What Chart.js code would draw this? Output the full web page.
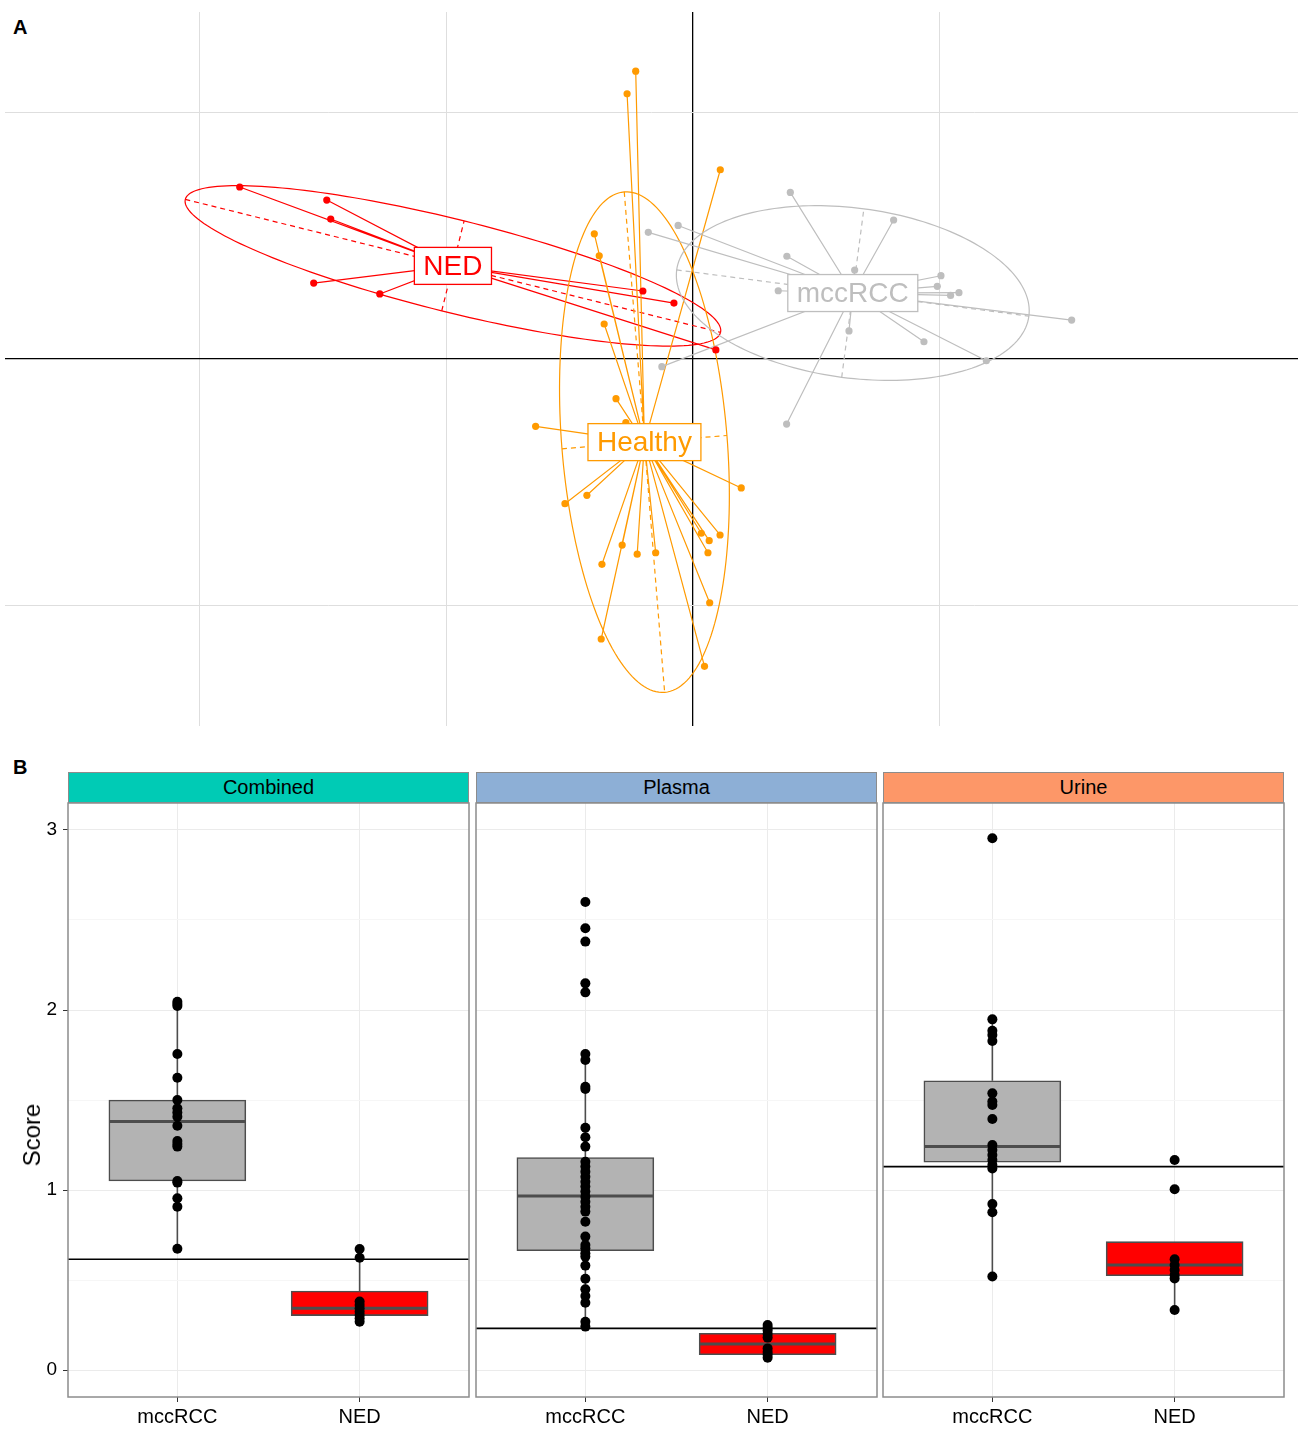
<!DOCTYPE html>
<html>
<head>
<meta charset="utf-8">
<script src="https://cdn.jsdelivr.net/npm/chart.js@4.4.0/dist/chart.umd.min.js"></script>
<style>
  body { margin: 0; background: #fff; font-family: "Liberation Sans", Arial, sans-serif; }
  #page { position: relative; width: 1298px; height: 1432px; overflow: hidden; }
  canvas { position: absolute; }
  .tag { position: absolute; left: 13px; font-weight: bold; font-size: 20px; }
  .strip { position: absolute; top: 772px; width: 401px; height: 31px; box-sizing: border-box;
           border: 1.5px solid #8c8c8c; text-align: center; line-height: 29px; font-size: 20px; color: #000; }
  #ytitle { position: absolute; left: 32px; top: 1135px; font-size: 24px; color: #000;
            transform: translate(-50%, -50%) rotate(-90deg); white-space: nowrap; }
</style>
</head>
<body>
<div id="page">
  <div class="tag" style="top:16px">A</div>
  <canvas id="pca" width="1298" height="740" style="left:0;top:0"></canvas>

  <div class="tag" style="top:756px">B</div>
  <div class="strip" style="left:68px;background:#00cbb5">Combined</div>
  <div class="strip" style="left:476px;background:#8dafd6">Plasma</div>
  <div class="strip" style="left:883px;background:#fd9768">Urine</div>
  <canvas id="facet0" width="471" height="631" style="left:0;top:801px"></canvas>
  <canvas id="facet1" width="405" height="631" style="left:474px;top:801px"></canvas>
  <canvas id="facet2" width="405" height="631" style="left:881px;top:801px"></canvas>
  <div id="ytitle">Score</div>
</div>

<script>
// ---- panel A: sample scores on the first two axes ----
const nedPts = [[-1.838,0.698],[-1.485,0.645],[-1.469,0.568],[-1.538,0.308],[-1.270,0.264],
  [-0.203,0.276],[-0.077,0.227],[0.093,0.037]];
const healthyPts = [[-0.232,1.168],[-0.267,1.076],[0.111,0.768],[-0.400,0.508],[-0.380,0.419],
  [-0.360,0.142],[-0.312,-0.161],[-0.272,-0.258],[-0.638,-0.273],[0.196,-0.523],[-0.519,-0.587],
  [-0.430,-0.553],[0.034,-0.707],[0.066,-0.737],[0.110,-0.714],[0.061,-0.786],[-0.369,-0.833],
  [-0.287,-0.755],[-0.226,-0.792],[-0.151,-0.786],[0.068,-0.989],[-0.372,-1.136],[0.047,-1.247]];
const mccPts = [[0.395,0.676],[0.814,0.564],[-0.060,0.542],[-0.181,0.514],[0.381,0.417],
  [0.656,0.361],[1.006,0.338],[0.991,0.295],[1.079,0.269],[1.045,0.258],[0.346,0.277],
  [1.536,0.158],[0.633,0.114],[0.937,0.070],[1.190,-0.007],[-0.126,-0.031],[0.380,-0.264]];
const classNames = ['NED', 'Healthy', 'mccRCC'];
const pcaGridX = [-2, -1, 0, 1];
const pcaGridY = [-1, 0, 1];

// ---- panel B: scores per sample type ----
const facetNames = ['Combined', 'Plasma', 'Urine'];
const boxGroups = ['mccRCC', 'NED'];
const combinedMcc = [2.046,2.033,2.022,1.756,1.624,1.500,1.454,1.430,1.407,1.357,1.272,1.256,
  1.241,1.050,1.041,0.954,0.907,0.674];
const combinedNed = [0.672,0.624,0.380,0.361,0.343,0.324,0.306,0.287,0.268];
const plasmaMcc = [2.600,2.454,2.380,2.148,2.098,1.756,1.722,1.574,1.561,1.346,1.293,1.241,
  1.157,1.130,1.102,1.074,1.046,1.019,0.991,0.963,0.935,0.907,0.880,0.824,0.741,0.694,0.676,
  0.648,0.630,0.580,0.507,0.448,0.411,0.374,0.268,0.241];
const plasmaNed = [0.250,0.235,0.220,0.200,0.180,0.120,0.100,0.085,0.068];
const urineMcc = [2.954,1.948,1.885,1.861,1.828,1.537,1.491,1.472,1.394,1.250,1.222,1.194,
  1.167,1.139,1.120,0.922,0.876,0.519];
const urineNed = [1.167,1.004,0.615,0.583,0.556,0.528,0.509,0.333];
// [lower whisker, q1, median, q3, upper whisker]
const combinedBox = [[0.674,1.050,1.380,1.500,2.046],[0.268,0.302,0.343,0.439,0.624]];
const plasmaBox = [[0.241,0.663,0.967,1.180,1.756],[0.068,0.085,0.144,0.204,0.250]];
const urineBox = [[0.519,1.154,1.241,1.607,1.948],[0.333,0.524,0.583,0.713,0.713]];
const cutoffs = [0.615, 0.231, 1.130];
const scoreTicks = [0, 0.5, 1, 1.5, 2, 2.5, 3];

Chart.defaults.font.family = '"Liberation Sans", Arial, sans-serif';
Chart.defaults.color = '#000';

// centroid + 1.5 sd ellipse of each class (population covariance)
function classStats(pts) {
  const n = pts.length;
  let mx = 0, my = 0;
  pts.forEach(p => { mx += p[0]; my += p[1]; });
  mx /= n; my /= n;
  let sxx = 0, syy = 0, sxy = 0;
  pts.forEach(p => {
    const dx = p[0] - mx, dy = p[1] - my;
    sxx += dx * dx; syy += dy * dy; sxy += dx * dy;
  });
  sxx /= n; syy /= n; sxy /= n;
  const tr = (sxx + syy) / 2;
  const d = Math.sqrt(((sxx - syy) / 2) ** 2 + sxy * sxy);
  return {
    mx: mx, my: my,
    a: 1.5 * Math.sqrt(tr + d),
    b: 1.5 * Math.sqrt(Math.max(tr - d, 0)),
    th: 0.5 * Math.atan2(2 * sxy, sxx - syy)
  };
}

const classes = [
  { name: classNames[0], color: '#ff0000', pts: nedPts },
  { name: classNames[1], color: '#ff9a00', pts: healthyPts },
  { name: classNames[2], color: '#bebebe', pts: mccPts }
];
classes.forEach(c => { c.stats = classStats(c.pts); });

const classPlugin = {
  id: 'classes',
  beforeDatasetsDraw(chart) {
    const { ctx, chartArea, scales: { x, y } } = chart;
    const px = v => x.getPixelForValue(v), py = v => y.getPixelForValue(v);
    ctx.save();
    ctx.beginPath();
    ctx.rect(chartArea.left, chartArea.top, chartArea.width, chartArea.height);
    ctx.clip();
    classes.forEach(c => {
      const s = c.stats, ca = Math.cos(s.th), sa = Math.sin(s.th);
      ctx.strokeStyle = c.color;
      ctx.lineWidth = 1.2;
      ctx.setLineDash([]);
      ctx.beginPath();
      for (let i = 0; i <= 180; i++) {
        const t = i / 180 * 2 * Math.PI;
        const ex = s.mx + s.a * Math.cos(t) * ca - s.b * Math.sin(t) * sa;
        const ey = s.my + s.a * Math.cos(t) * sa + s.b * Math.sin(t) * ca;
        if (i === 0) ctx.moveTo(px(ex), py(ey)); else ctx.lineTo(px(ex), py(ey));
      }
      ctx.stroke();
      // ellipse axes
      ctx.setLineDash([5, 4]);
      ctx.beginPath();
      ctx.moveTo(px(s.mx - s.a * ca), py(s.my - s.a * sa));
      ctx.lineTo(px(s.mx + s.a * ca), py(s.my + s.a * sa));
      ctx.moveTo(px(s.mx + s.b * sa), py(s.my - s.b * ca));
      ctx.lineTo(px(s.mx - s.b * sa), py(s.my + s.b * ca));
      ctx.stroke();
      // star from centroid to each sample
      ctx.setLineDash([]);
      ctx.beginPath();
      c.pts.forEach(p => {
        ctx.moveTo(px(s.mx), py(s.my));
        ctx.lineTo(px(p[0]), py(p[1]));
      });
      ctx.stroke();
    });
    ctx.restore();
  },
  afterDatasetsDraw(chart) {
    const { ctx, scales: { x, y } } = chart;
    ctx.save();
    ctx.font = '28px "Liberation Sans", Arial, sans-serif';
    ctx.textAlign = 'center';
    ctx.textBaseline = 'middle';
    classes.forEach(c => {
      const cx = x.getPixelForValue(c.stats.mx), cy = y.getPixelForValue(c.stats.my);
      const w = ctx.measureText(c.name).width + 18, h = 37;
      ctx.fillStyle = '#fff';
      ctx.fillRect(cx - w / 2, cy - h / 2, w, h);
      ctx.strokeStyle = c.color;
      ctx.lineWidth = 1.3;
      ctx.strokeRect(cx - w / 2, cy - h / 2, w, h);
      ctx.fillStyle = c.color;
      ctx.fillText(c.name, cx, cy + 1);
    });
    ctx.restore();
  }
};

function pcaAxis(min, max, grid, vertical) {
  return {
    type: 'linear', min: min, max: max,
    afterBuildTicks: s => { s.ticks = grid.map(v => ({ value: v })); },
    afterFit: s => {
      if (vertical) s.width = 0; else s.height = 0;
      s.paddingTop = s.paddingBottom = s.paddingLeft = s.paddingRight = 0;
    },
    ticks: { display: false },
    border: { display: false },
    grid: {
      drawTicks: false,
      color: c => c.tick.value === 0 ? '#000' : '#dedede',
      lineWidth: c => c.tick.value === 0 ? 1.3 : 1
    }
  };
}

new Chart(document.getElementById('pca'), {
  type: 'scatter',
  data: {
    datasets: classes.map(c => ({
      label: c.name,
      data: c.pts.map(p => ({ x: p[0], y: p[1] })),
      backgroundColor: c.color,
      borderWidth: 0,
      pointRadius: 3.6
    }))
  },
  options: {
    responsive: false,
    animation: false,
    layout: { autoPadding: false, padding: { left: 5, top: 12, right: 0, bottom: 14 } },
    plugins: { legend: { display: false }, tooltip: { enabled: false } },
    scales: {
      x: pcaAxis(-2.79, 2.454, pcaGridX, false),
      y: pcaAxis(-1.489, 1.408, pcaGridY, true)
    }
  },
  plugins: [classPlugin]
});

// whiskers, medians and panel frame
const boxPlugin = {
  id: 'boxStats',
  beforeDatasetsDraw(chart, args, opts) {
    const { ctx, scales: { x, y } } = chart;
    ctx.save();
    ctx.strokeStyle = '#4d4d4d';
    ctx.lineWidth = 1.6;
    opts.boxes.forEach((b, k) => {
      const bx = x.getPixelForValue(k + 1);
      ctx.beginPath();
      ctx.moveTo(bx, y.getPixelForValue(b[0]));
      ctx.lineTo(bx, y.getPixelForValue(b[1]));
      ctx.moveTo(bx, y.getPixelForValue(b[3]));
      ctx.lineTo(bx, y.getPixelForValue(b[4]));
      ctx.stroke();
    });
    ctx.restore();
  },
  afterDatasetDraw(chart, args, opts) {
    if (args.meta.type !== 'bar') return;
    const { ctx, scales: { x, y } } = chart;
    ctx.save();
    ctx.strokeStyle = '#4d4d4d';
    ctx.lineWidth = 3;
    opts.boxes.forEach((b, k) => {
      const my = y.getPixelForValue(b[2]);
      ctx.beginPath();
      ctx.moveTo(x.getPixelForValue(k + 1 - 0.375), my);
      ctx.lineTo(x.getPixelForValue(k + 1 + 0.375), my);
      ctx.stroke();
    });
    ctx.restore();
  },
  afterDraw(chart) {
    const { ctx, chartArea: a } = chart;
    ctx.save();
    ctx.strokeStyle = '#8c8c8c';
    ctx.lineWidth = 1.5;
    ctx.strokeRect(a.left, a.top, a.width, a.height);
    ctx.restore();
  }
};

const facetPoints = [[combinedMcc, combinedNed], [plasmaMcc, plasmaNed], [urineMcc, urineNed]];
const facetBoxes = [combinedBox, plasmaBox, urineBox];

function facetChart(i) {
  const first = i === 0;
  const pts = [];
  facetPoints[i].forEach((vals, k) => vals.forEach(v => pts.push({ x: k + 1, y: v })));
  const boxes = facetBoxes[i];
  new Chart(document.getElementById('facet' + i), {
    type: 'bar',
    data: {
      datasets: [
        { type: 'scatter', data: pts, backgroundColor: '#000', borderWidth: 0, pointRadius: 5, order: 0 },
        { type: 'bar', data: boxes.map((b, k) => ({ x: k + 1, y: [b[1], b[3]] })),
          backgroundColor: ['#b3b3b3', '#ff0000'], borderColor: '#4d4d4d', borderWidth: 1.6,
          borderSkipped: false, barThickness: 137, order: 1 },
        { type: 'line', data: [{ x: 0.4, y: cutoffs[i] }, { x: 2.6, y: cutoffs[i] }],
          borderColor: '#000', borderWidth: 1.6, pointRadius: 0, order: 2 }
      ]
    },
    options: {
      responsive: false,
      animation: false,
      layout: { autoPadding: false, padding: { top: 2, right: 2, left: first ? 0 : 2, bottom: 0 } },
      plugins: {
        legend: { display: false }, tooltip: { enabled: false },
        boxStats: { boxes: boxes }
      },
      scales: {
        x: {
          type: 'linear', min: 0.4, max: 2.6, offset: false,
          afterBuildTicks: s => { s.ticks = boxGroups.map((g, k) => ({ value: k + 1 })); },
          afterFit: s => { s.height = 35; s.paddingLeft = s.paddingRight = 0; },
          ticks: { callback: v => boxGroups[v - 1], font: { size: 20 }, padding: 3, maxRotation: 0 },
          border: { display: false },
          grid: { offset: false, color: '#ebebeb', tickColor: '#333', tickLength: 5 }
        },
        y: {
          type: 'linear', min: -0.15, max: 3.15,
          afterBuildTicks: s => { s.ticks = scoreTicks.map(v => ({ value: v })); },
          afterFit: s => { s.width = first ? 68 : 0; s.paddingTop = s.paddingBottom = 0; },
          ticks: {
            display: first,
            callback: v => Number.isInteger(v) ? String(v) : '',
            font: { size: 19 }, padding: 6
          },
          border: { display: false },
          grid: {
            offset: false,
            color: c => Number.isInteger(c.tick.value) ? '#ebebeb' : '#f6f6f6',
            tickColor: c => first && Number.isInteger(c.tick.value) ? '#333' : 'rgba(0,0,0,0)',
            tickLength: 5
          }
        }
      }
    },
    plugins: [boxPlugin]
  });
}

facetNames.forEach((name, i) => facetChart(i));
</script>
</body>
</html>
